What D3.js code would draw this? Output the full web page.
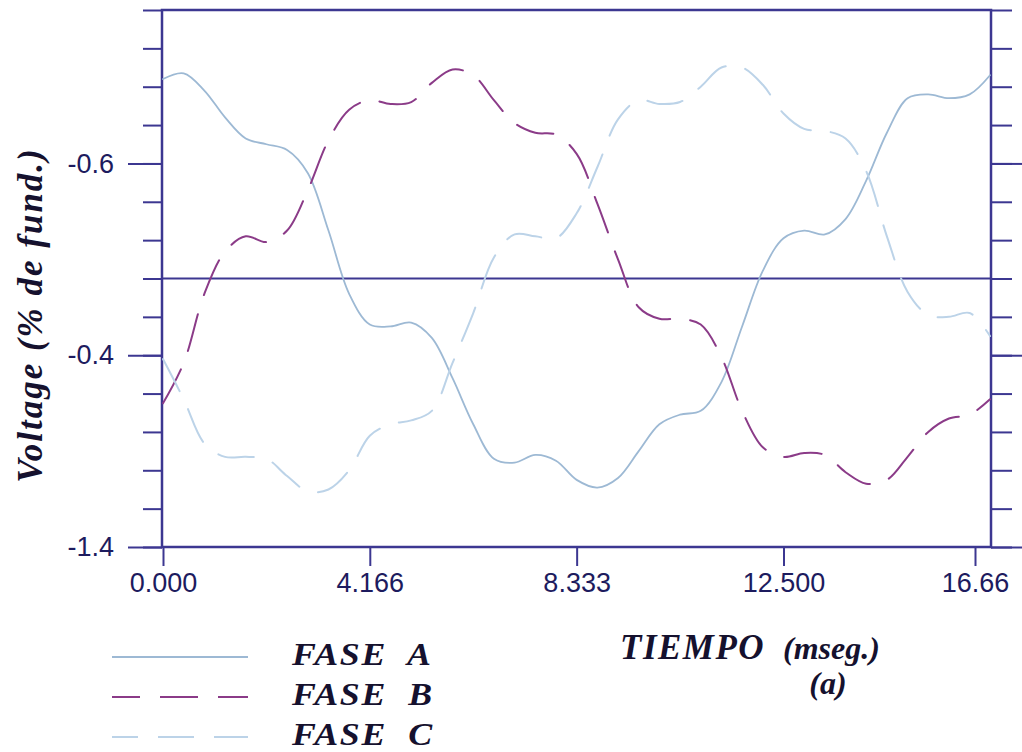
<!DOCTYPE html>
<html>
<head>
<meta charset="utf-8">
<script src="https://cdn.jsdelivr.net/npm/d3@7"></script>
<style>
  body { margin: 0; background: #fff; }
  svg { display: block; }
  .axis text { font-family: "Liberation Sans", Arial, sans-serif; font-size: 27px; fill: #1d1b5e; }
  .axis line { stroke: #3c3791; stroke-width: 2px; }
  .title { font-family: "Liberation Serif", "Times New Roman", serif; font-weight: bold; font-style: italic; fill: #15112e; white-space: pre; }
</style>
</head>
<body>
<svg id="chart" width="1022" height="752"></svg>
<script>
// time axis (ms), one sample every 1/40 of a cycle
var tiempo = [0.000, 0.417, 0.833, 1.250, 1.666, 2.083, 2.500, 2.916, 3.333, 3.750,
              4.166, 4.583, 5.000, 5.416, 5.833, 6.250, 6.666, 7.083, 7.500, 7.916,
              8.333, 8.750, 9.166, 9.583, 10.000, 10.416, 10.833, 11.250, 11.666, 12.083,
              12.500, 12.916, 13.333, 13.750, 14.166, 14.583, 15.000, 15.416, 15.833, 16.250, 16.660];

var faseA = [1.04, 1.07, 0.98, 0.84, 0.73, 0.70, 0.67, 0.55, 0.25, -0.08,
             -0.24, -0.25, -0.23, -0.31, -0.52, -0.76, -0.94, -0.96, -0.92, -0.95,
             -1.05, -1.09, -1.04, -0.90, -0.76, -0.71, -0.69, -0.54, -0.25, 0.04,
             0.21, 0.25, 0.23, 0.31, 0.51, 0.76, 0.94, 0.96, 0.94, 0.96, 1.06];

var faseB = [-0.65, -0.44, -0.08, 0.14, 0.22, 0.19, 0.25, 0.46, 0.72, 0.88,
             0.93, 0.91, 0.92, 1.02, 1.09, 1.06, 0.93, 0.81, 0.76, 0.75,
             0.65, 0.39, 0.10, -0.15, -0.21, -0.21, -0.24, -0.41, -0.69, -0.88,
             -0.93, -0.91, -0.92, -1.01, -1.07, -1.05, -0.93, -0.80, -0.73, -0.71, -0.63];

var faseC = [-0.42, -0.63, -0.86, -0.93, -0.93, -0.94, -1.03, -1.11, -1.10, -1.00,
             -0.82, -0.76, -0.74, -0.69, -0.44, -0.18, 0.11, 0.23, 0.22, 0.21,
             0.34, 0.58, 0.83, 0.93, 0.91, 0.92, 1.00, 1.10, 1.10, 1.01,
             0.86, 0.78, 0.77, 0.73, 0.56, 0.22, -0.07, -0.19, -0.20, -0.18, -0.30];

var seriesNames = ["FASE  A", "FASE  B", "FASE  C"];

var xTicks = [0, 4.166, 8.333, 12.5, 16.66];
var xTickLabels = ["0.000", "4.166", "8.333", "12.500", "16.66"];

var yMinorTicks = [1.4, 1.2, 1.0, 0.8, 0.6, 0.4, 0.2, 0, -0.2, -0.4, -0.6, -0.8, -1.0, -1.2, -1.4];
var yMajorTicks = [0.6, -0.4, -1.4];
var yTickLabels = ["-0.6", "-0.4", "-1.4"];

var svg = d3.select("#chart"),
    plotLeft = 162, plotRight = 991, plotTop = 10, plotBottom = 547,
    frameColor = "#3c3791";

var x = d3.scaleLinear().domain([0, 16.66]).range([163, 990]);
var y = d3.scaleLinear().domain([-1.4, 1.4]).range([plotBottom, plotTop]);

var styles = [
    {color: "#9db9d4", dash: null, width: 1.8},
    {color: "#8b3b88", dash: "38,20", width: 2},
    {color: "#bcd3e8", dash: "36,20", width: 2}
];

svg.append("defs").append("clipPath").attr("id", "plotclip")
    .append("rect")
    .attr("x", plotLeft).attr("y", plotTop)
    .attr("width", plotRight - plotLeft).attr("height", plotBottom - plotTop);

// left ticks
svg.append("g")
    .attr("class", "axis")
    .attr("transform", "translate(" + plotLeft + ",0)")
    .call(d3.axisLeft(y).tickValues(yMinorTicks).tickSize(19).tickFormat(""))
    .call(function (g) { g.select(".domain").remove(); });

svg.append("g")
    .attr("class", "axis")
    .attr("transform", "translate(" + plotLeft + ",0)")
    .call(d3.axisLeft(y).tickValues(yMajorTicks).tickSize(34).tickPadding(14)
        .tickFormat(function (d, i) { return yTickLabels[i]; }))
    .call(function (g) { g.select(".domain").remove(); });

// right ticks
svg.append("g")
    .attr("class", "axis")
    .attr("transform", "translate(" + plotRight + ",0)")
    .call(d3.axisRight(y).tickValues(yMinorTicks).tickSize(21).tickFormat(""))
    .call(function (g) { g.select(".domain").remove(); });

svg.append("g")
    .attr("class", "axis")
    .attr("transform", "translate(" + plotRight + ",0)")
    .call(d3.axisRight(y).tickValues(yMajorTicks).tickSize(31).tickFormat(""))
    .call(function (g) { g.select(".domain").remove(); });

// bottom ticks (the last one sits a little inside the frame, as in the original)
svg.append("g")
    .attr("class", "axis")
    .attr("transform", "translate(0," + plotBottom + ")")
    .call(d3.axisBottom(x).tickValues(xTicks).tickSize(19).tickPadding(7)
        .tickFormat(function (d, i) { return xTickLabels[i]; }))
    .call(function (g) {
        g.select(".domain").remove();
        var last = g.selectAll(".tick").filter(function (d, i) { return i === xTicks.length - 1; });
        last.select("line").attr("transform", "translate(-15,0)");
        last.select("text").attr("dx", -15);
    });

// frame + zero line
svg.append("rect")
    .attr("x", plotLeft).attr("y", plotTop)
    .attr("width", plotRight - plotLeft).attr("height", plotBottom - plotTop)
    .attr("fill", "none")
    .attr("stroke", frameColor)
    .attr("stroke-width", 2.5);

svg.append("line")
    .attr("x1", plotLeft).attr("x2", plotRight)
    .attr("y1", y(0)).attr("y2", y(0))
    .attr("stroke", frameColor)
    .attr("stroke-width", 2);

// curves
var line = d3.line()
    .x(function (d) { return x(d[0]); })
    .y(function (d) { return y(d[1]); })
    .curve(d3.curveCatmullRom.alpha(0.5));

[faseA, faseB, faseC].forEach(function (vals, i) {
    var pts = tiempo.map(function (t, j) { return [t, vals[j]]; });
    svg.append("path")
        .attr("clip-path", "url(#plotclip)")
        .attr("d", line(pts))
        .attr("fill", "none")
        .attr("stroke", styles[i].color)
        .attr("stroke-width", styles[i].width)
        .attr("stroke-dasharray", styles[i].dash)
        .attr("stroke-linecap", "round");
});

// y title
svg.append("text")
    .attr("class", "title")
    .attr("transform", "translate(42,315) rotate(-90)")
    .attr("text-anchor", "middle")
    .attr("font-size", 35)
    .attr("letter-spacing", 2)
    .text("Voltage (% de fund.)");

// legend
var legend = svg.selectAll(".legend")
    .data(seriesNames)
    .enter()
    .append("g")
    .attr("class", "legend")
    .attr("transform", function (d, i) { return "translate(0," + (657 + i * 40) + ")"; });

legend.append("line")
    .attr("x1", 112).attr("x2", 248)
    .attr("stroke", function (d, i) { return styles[i].color; })
    .attr("stroke-width", 2)
    .attr("stroke-dasharray", function (d, i) { return styles[i].dash; })
    .attr("stroke-dashoffset", 10);

legend.append("text")
    .attr("class", "title")
    .attr("transform", "translate(292,8) scale(1.12,1)")
    .attr("font-size", 32)
    .attr("letter-spacing", 1.5)
    .text(function (d) { return d; });

// x title
svg.append("text")
    .attr("class", "title")
    .attr("x", 620).attr("y", 659)
    .attr("font-size", 35)
    .attr("letter-spacing", 1.5)
    .text("TIEMPO");

svg.append("text")
    .attr("class", "title")
    .attr("x", 783).attr("y", 659)
    .attr("font-size", 32)
    .text("(mseg.)");

svg.append("text")
    .attr("class", "title")
    .attr("x", 828).attr("y", 694)
    .attr("text-anchor", "middle")
    .attr("font-size", 32)
    .text("(a)");
</script>
</body>
</html>
